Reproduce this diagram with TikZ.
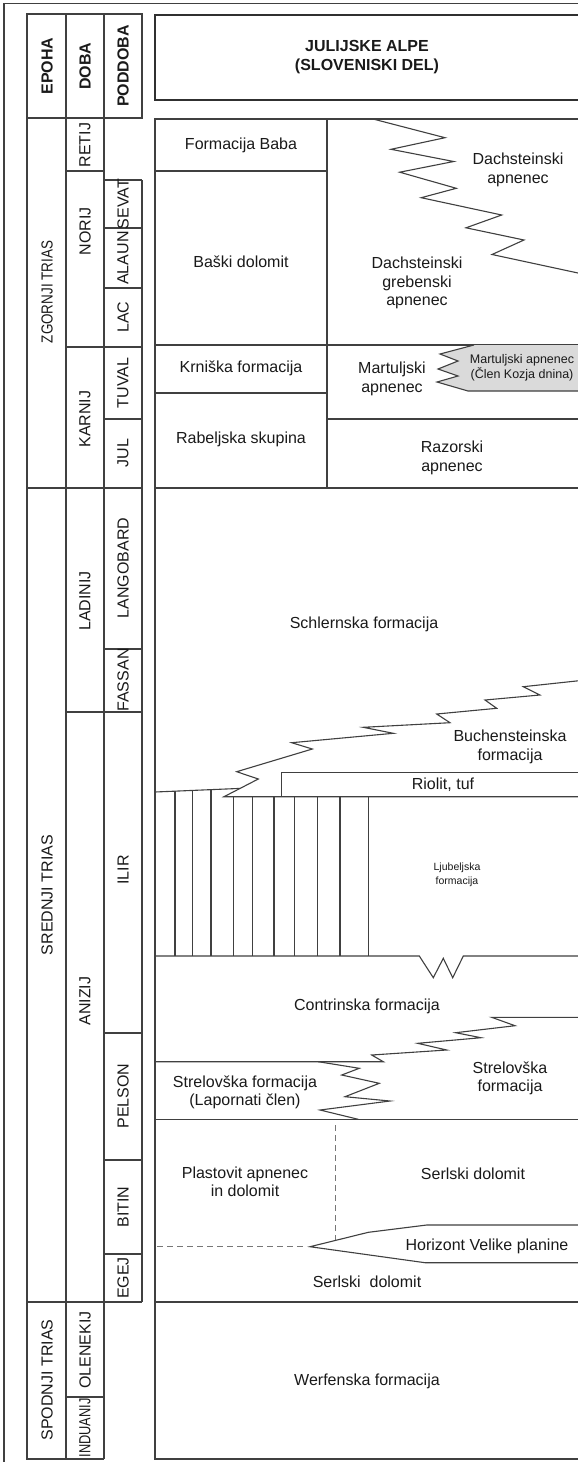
\documentclass[tikz,border=0pt]{standalone}
\usepackage{fontspec}
\setmainfont{Liberation Sans}
\definecolor{lncol}{HTML}{404040}
\definecolor{titlecol}{HTML}{303030}
\definecolor{txtcol}{HTML}{1A1A1A}
\definecolor{dashcol}{HTML}{777777}
\definecolor{tonguecol}{HTML}{DADADA}
\begin{document}
\begin{tikzpicture}[x=1pt,y=-1pt,
  ln/.style={draw=lncol, line width=1.1pt, line join=miter},
  lbl/.style={font=\fontsize{16}{18.5}\selectfont, text=txtcol, align=center, inner sep=0pt},
  vlbl/.style={lbl, rotate=90},
  hdr/.style={vlbl, font=\fontsize{16}{18.5}\selectfont\bfseries},
  smalllbl/.style={lbl, font=\fontsize{12.5}{15.5}\selectfont},
  tinylbl/.style={lbl, font=\fontsize{10.5}{13.5}\selectfont},
  dsh/.style={draw=dashcol, line width=1.4pt, dash pattern=on 6pt off 4pt}]
\useasboundingbox (0,0) rectangle (578,1462);
\clip (0,0) rectangle (578,1462);
\fill[white] (0,0) rectangle (578,1462);

% outer frame
\draw[ln] (4,1470) -- (4,3.5) -- (600,3.5);

% ---------- left table ----------
\draw[ln] (27,14) rectangle (142,118);
\draw[ln] (66,14) -- (66,1459);
\draw[ln] (104,14) -- (104,1459);
\draw[ln] (27,118) -- (27,1459) -- (104,1459);
\draw[ln] (142,180) -- (142,1302);
\draw[ln] (66,171) -- (104,171);
\draw[ln] (104,180) -- (142,180);
\draw[ln] (104,228) -- (142,228);
\draw[ln] (104,288) -- (142,288);
\draw[ln] (66,347) -- (142,347);
\draw[ln] (104,419) -- (142,419);
\draw[ln] (27,488) -- (142,488);
\draw[ln] (104,649) -- (142,649);
\draw[ln] (66,712) -- (142,712);
\draw[ln] (104,1033) -- (142,1033);
\draw[ln] (104,1160) -- (142,1160);
\draw[ln] (104,1254) -- (142,1254);
\draw[ln] (27,1302) -- (142,1302);
\draw[ln] (66,1397) -- (104,1397);

\node[hdr] (hEpoha) at (47,66) {EPOHA};
\node[hdr] (hDoba) at (85,66) {DOBA};
\node[hdr] (hPoddoba) at (123,66) {PODDOBA};

\node[vlbl] (zgornji) at (47,292) {\scalebox{0.84}[1]{ZGORNJI TRIAS}};
\node[vlbl] (srednji) at (47,895) {SREDNJI TRIAS};
\node[vlbl] (spodnji) at (47,1380) {SPODNJI TRIAS};

\node[vlbl] (retij) at (85,145) {RETIJ};
\node[vlbl] (norij) at (85,231) {NORIJ};
\node[vlbl] (karnij) at (85,419) {KARNIJ};
\node[vlbl] (ladinij) at (85,601) {LADINIJ};
\node[vlbl] (anizij) at (85,1001) {ANIZIJ};
\node[vlbl] (olenekij) at (85,1350) {OLENEKIJ};
\node[vlbl] (induanij) at (85,1428) {\scalebox{0.8}[1]{INDUANIJ}};

\node[vlbl] (sevat) at (123,204) {SEVAT};
\node[vlbl] (alaun) at (123,258) {ALAUN};
\node[vlbl] (lac) at (123,317) {LAC};
\node[vlbl] (tuval) at (123,383) {TUVAL};
\node[vlbl] (jul) at (123,453) {JUL};
\node[vlbl] (langobard) at (123,568) {LANGOBARD};
\node[vlbl] (fassan) at (123,680) {FASSAN};
\node[vlbl] (ilir) at (123,870) {ILIR};
\node[vlbl] (pelson) at (123,1096) {PELSON};
\node[vlbl] (bitin) at (123,1207) {BITIN};
\node[vlbl] (egej) at (123,1278) {EGEJ};

% ---------- title ----------
\draw[draw=titlecol, line width=2pt] (155,15) rectangle (620,100);
\node[lbl, font=\fontsize{16}{19}\selectfont\bfseries] (title) at (367,57.5) {JULIJSKE ALPE\\(SLOVENISKI DEL)};

% ---------- main column ----------
\draw[ln] (620,119) -- (155,119) -- (155,1459) -- (620,1459);
\draw[ln] (327,119) -- (327,488);
\draw[ln] (155,171) -- (327,171);
\draw[ln] (155,345) -- (620,345);
\draw[ln] (155,393) -- (327,393);
\draw[ln] (327,419) -- (620,419);
\draw[ln] (155,488) -- (620,488);

% Dachstein interfingering
\draw[ln] (373,119) -- (445,137.7) -- (391,149.3) -- (453.7,161.5) -- (399.7,172.2)
  -- (456.3,188.3) -- (421.2,197.7) -- (501.7,215) -- (466,227.8) -- (524,240)
  -- (492,254.5) -- (578,273) -- (620,282.3);

% grey tongue
\fill[tonguecol] (620,345) -- (474,345) -- (440,354) -- (458,361) -- (438,369)
  -- (458,376) -- (437,382) -- (468,391) -- (620,391) -- cycle;
\draw[ln] (474,345) -- (440,354) -- (458,361) -- (438,369)
  -- (458,376) -- (437,382) -- (468,391) -- (620,391);

% Buchenstein / Schlern boundary
\draw[ln] (620,676.3) -- (523.3,686.7) -- (540,695) -- (485,700) -- (496.7,708.3)
  -- (436.7,714) -- (450,722.7) -- (363.3,727.3) -- (393.3,733.3) -- (291.7,742.7)
  -- (312.3,749) -- (236.7,771.7) -- (258.3,779) -- (224,796.7) -- (620,796.7);
\draw[ln] (155,792) -- (240,788.4);
% Riolit box
\draw[ln] (620,772.7) -- (281.7,772.7) -- (281.7,796.7);
% hatching
\foreach \hx/\hy in {175/791.2, 192.3/790.4, 211/789.6}
  \draw[ln] (\hx,\hy) -- (\hx,956);
\foreach \hx in {233.3, 252.7, 274, 294.3, 317.7, 340, 368.3}
  \draw[ln] (\hx,796.7) -- (\hx,956);
\draw[ln] (155,956) -- (419.3,956) -- (433.3,977.7) -- (443.3,958.3) -- (452.7,977.7)
  -- (463.3,956) -- (620,956);

% Strelovska
\draw[ln] (620,1017.3) -- (491.7,1017.3) -- (515,1025.7) -- (455.7,1032.7) -- (481,1037.7)
  -- (417.7,1043.3) -- (446.7,1050) -- (371.7,1055) -- (383.3,1061.7) -- (155,1061.7);
\draw[ln] (318.3,1061.7) -- (359.3,1068.3) -- (341.7,1075) -- (379.3,1083.3) -- (345,1096.7)
  -- (390,1101) -- (320,1110) -- (358.3,1119.3);
\draw[ln] (155,1119.3) -- (620,1119.3);

% dashed boundaries
\draw[dsh] (335.7,1125) -- (335.7,1240);
\draw[dsh] (157,1246.7) -- (306,1246.7);

% Horizont Velike planine
\draw[ln] (620,1225) -- (426.7,1225) -- (368.3,1232.3) -- (310,1246.7) -- (425,1262.7) -- (620,1262.7);

\draw[ln] (155,1302) -- (620,1302);

% ---------- texts ----------
\node[lbl] (baba) at (241,145) {Formacija Baba};
\node[lbl] (baski) at (241,262) {Baški dolomit};
\node[lbl] (krniska) at (241,368) {Krniška formacija};
\node[lbl] (rabelj) at (241,439) {Rabeljska skupina};
\node[lbl] (dachA) at (518,170) {Dachsteinski\\apnenec};
\node[lbl] (dachG) at (417,283) {Dachsteinski\\grebenski\\apnenec};
\node[lbl] (martA) at (392,379) {Martuljski\\apnenec};
\node[smalllbl] (martK) at (522,368) {Martuljski apnenec\\(Člen Kozja dnina)};
\node[lbl] (razor) at (452,458) {Razorski\\apnenec};
\node[lbl] (schlern) at (364,624) {Schlernska formacija};
\node[lbl] (buchen) at (510,747) {Buchensteinska\\formacija};
\node[lbl] (riolit) at (443,785) {Riolit, tuf};
\node[tinylbl] (ljubelj) at (457,875) {Ljubeljska\\formacija};
\node[lbl] (contrin) at (367,1006) {Contrinska formacija};
\node[lbl] (strelL) at (245,1092.5) {Strelovška formacija\\(Lapornati člen)};
\node[lbl] (strelR) at (510,1078.5) {Strelovška\\formacija};
\node[lbl] (plast) at (245,1182) {Plastovit apnenec\\in dolomit};
\node[lbl] (serlA) at (473,1174) {Serlski dolomit};
\node[lbl] (horizont) at (487,1246) {Horizont Velike planine};
\node[lbl] (serlB) at (367,1281.7) {Serlski\ \ dolomit};
\node[lbl] (werfen) at (367,1381) {Werfenska formacija};
\end{tikzpicture}
\end{document}
